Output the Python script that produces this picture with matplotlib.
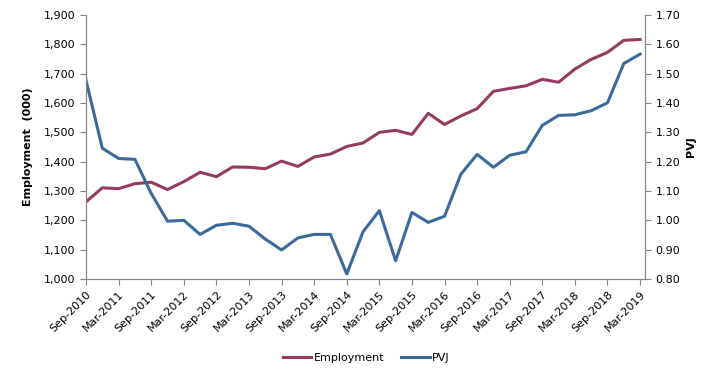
#!/usr/bin/env python3
"""Employment vs PVJ, quarterly Sep-2010 to Mar-2019 (two y axes)."""

import matplotlib
matplotlib.use('Agg')
import matplotlib.pyplot as plt
from matplotlib.ticker import FuncFormatter

# quarterly points, Sep-2010 .. Mar-2019
quarters = ['Sep-2010', 'Dec-2010', 'Mar-2011', 'Jun-2011', 'Sep-2011', 'Dec-2011',
            'Mar-2012', 'Jun-2012', 'Sep-2012', 'Dec-2012', 'Mar-2013', 'Jun-2013',
            'Sep-2013', 'Dec-2013', 'Mar-2014', 'Jun-2014', 'Sep-2014', 'Dec-2014',
            'Mar-2015', 'Jun-2015', 'Sep-2015', 'Dec-2015', 'Mar-2016', 'Jun-2016',
            'Sep-2016', 'Dec-2016', 'Mar-2017', 'Jun-2017', 'Sep-2017', 'Dec-2017',
            'Mar-2018', 'Jun-2018', 'Sep-2018', 'Dec-2018', 'Mar-2019']

employment = [1263, 1311, 1308, 1325, 1330, 1305, 1332, 1364, 1349, 1382,
              1381, 1376, 1402, 1384, 1416, 1426, 1452, 1464, 1500, 1507,
              1493, 1565, 1527, 1556, 1581, 1640, 1650, 1659, 1681, 1671,
              1716, 1749, 1773, 1814, 1817]

pvj = [1.478, 1.246, 1.211, 1.208, 1.092, 0.997, 1.000, 0.952, 0.983, 0.990,
       0.980, 0.936, 0.899, 0.940, 0.952, 0.952, 0.817, 0.961, 1.033, 0.862,
       1.027, 0.993, 1.014, 1.157, 1.225, 1.181, 1.222, 1.234, 1.324, 1.358,
       1.360, 1.374, 1.401, 1.535, 1.567]

emp_color = '#953B62'
pvj_color = '#3A6A9C'
axis_grey = '#868686'

plt.rcParams['font.family'] = ['DejaVu Sans']
plt.rcParams['font.size'] = 8

fig = plt.figure(figsize=(7.18, 3.78), dpi=100)
ax1 = fig.add_axes([0.1198, 0.262, 0.7785, 0.698])
ax2 = ax1.twinx()

x = list(range(len(quarters)))
l1, = ax1.plot(x, employment, color=emp_color, lw=2.2, label='Employment')
l2, = ax2.plot(x, pvj, color=pvj_color, lw=2.2, label='PVJ')

ax1.set_xlim(0, 34.3)
ax1.set_ylim(1000, 1900)
ax1.set_yticks(range(1000, 1901, 100))
ax1.yaxis.set_major_formatter(FuncFormatter(lambda v, p: '{:,.0f}'.format(v)))
ax2.set_ylim(0.80, 1.70)
ax2.set_yticks([0.8 + 0.1 * i for i in range(10)])
ax2.yaxis.set_major_formatter(FuncFormatter(lambda v, p: '{:.2f}'.format(v)))

ax1.set_xticks(x[::2])
ax1.set_xticklabels(quarters[::2], rotation=45, ha='right', rotation_mode='anchor')

for ax in (ax1, ax2):
    ax.spines['top'].set_visible(False)
    for s in ('left', 'right', 'bottom'):
        ax.spines[s].set_color(axis_grey)
    ax.tick_params(direction='out', length=4, color=axis_grey, labelsize=8)

ax1.set_ylabel('Employment  (000)', fontweight='bold', fontsize=8, labelpad=8)
ax2.set_ylabel('PVJ', fontweight='bold', fontsize=8, rotation=90, labelpad=4)

fig.legend(handles=[l1, l2], loc='center', bbox_to_anchor=(0.51, 0.053), ncol=2,
           frameon=False, fontsize=8, handlelength=2.6, columnspacing=1.5,
           handletextpad=0.2)

plt.savefig('out.png', dpi=100)
plt.close()
